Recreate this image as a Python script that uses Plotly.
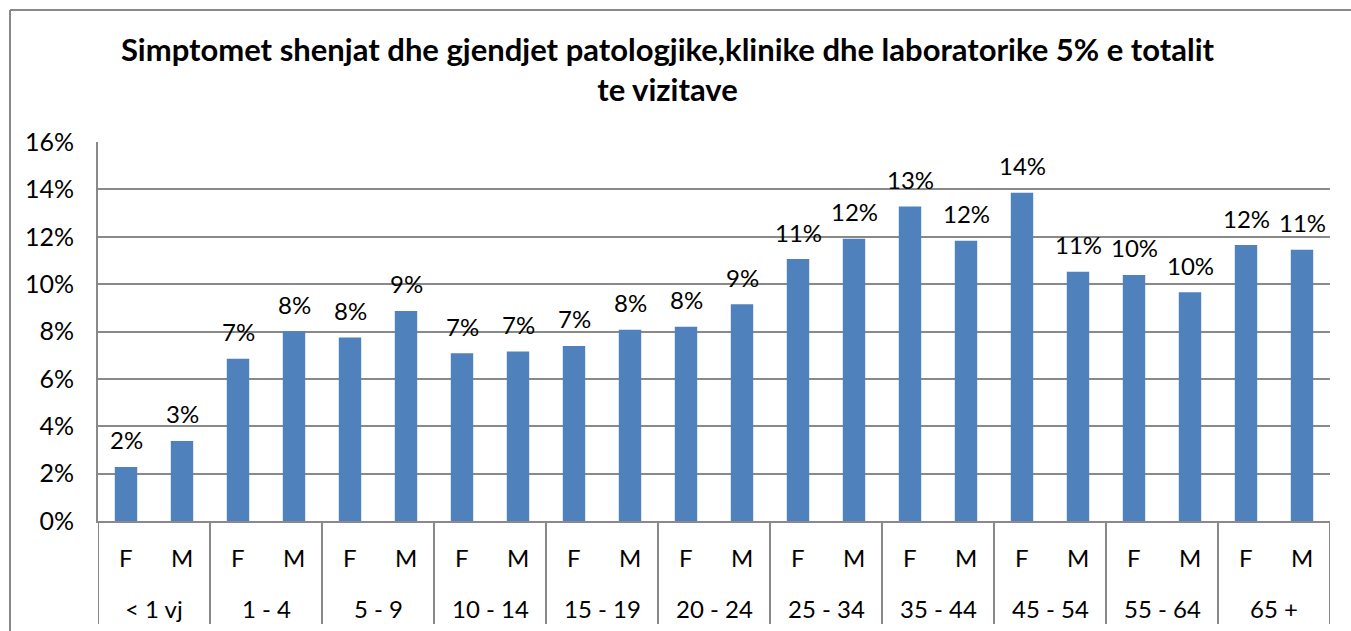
import plotly.graph_objects as go

groups = ["< 1 vj", "1 - 4", "5 - 9", "10 - 14", "15 - 19", "20 - 24",
          "25 - 34", "35 - 44", "45 - 54", "55 - 64", "65 +"]
sexes = ["F", "M"]
values = [2.28, 3.38, 6.85, 8.01, 7.75, 8.87, 7.08, 7.16, 7.39, 8.07, 8.20, 9.15,
          11.06, 11.92, 13.28, 11.83, 13.86, 10.52, 10.39, 9.66, 11.65, 11.45]
title_text = "Simptomet shenjat dhe gjendjet patologjike,klinike dhe laboratorike 5% e totalit<br>te vizitave"

n_sex = len(sexes)
x_sexes = [s for _ in groups for s in sexes]
xs = list(range(len(values)))
vals = [v / 100 for v in values]

W, H = 1351, 631
L, T = 98, 142
R, B = W - 1330, H - 521
PW, PH = W - L - R, H - T - B
FONT = "Lato"
GRID = "#898989"

fig = go.Figure()
fig.add_trace(go.Bar(
    x=xs, y=vals, width=0.4,
    marker=dict(color="#4F81BD", line=dict(width=0)),
    hoverinfo="skip",
))

annotations = []
for x, v in zip(xs, vals):
    annotations.append(dict(x=x, y=v, text=f"{round(v*100)}%", showarrow=False,
                            yanchor="middle", yshift=27,
                            font=dict(family=FONT, size=24, color="#000000")))
for x, s in zip(xs, x_sexes):
    annotations.append(dict(x=x, y=0, yref="paper", text=s, showarrow=False,
                            yanchor="middle", yshift=-36,
                            font=dict(family=FONT, size=24, color="#000000")))
for k, g in enumerate(groups):
    annotations.append(dict(x=k * n_sex + (n_sex - 1) / 2, y=0, yref="paper", text=g,
                            showarrow=False, yanchor="middle", yshift=-87,
                            font=dict(family=FONT, size=24, color="#000000")))

shapes = []
for k in range(len(groups) + 1):
    xd = k * n_sex - 0.5
    shapes.append(dict(type="line", xref="x", yref="paper", x0=xd, x1=xd,
                       y0=0, y1=-103 / PH, line=dict(color=GRID, width=2)))
# outer chart frame (top and left edges visible)
shapes.append(dict(type="line", xref="paper", yref="paper",
                   x0=(10 - L) / PW, x1=(W + 40 - L) / PW,
                   y0=(H - 10 - B) / PH, y1=(H - 10 - B) / PH,
                   line=dict(color=GRID, width=2), layer="below"))
shapes.append(dict(type="line", xref="paper", yref="paper",
                   x0=(10 - L) / PW, x1=(10 - L) / PW,
                   y0=-(B + 40) / PH, y1=(H - 10 - B) / PH,
                   line=dict(color=GRID, width=2), layer="below"))

fig.update_layout(
    width=W, height=H,
    margin=dict(l=L, r=R, t=T, b=B, pad=0),
    paper_bgcolor="white", plot_bgcolor="white",
    showlegend=False,
    title=dict(text=title_text, x=667.5 / W, xanchor="center",
               y=1 - 60.5 / H, yanchor="middle", yref="container",
               font=dict(family=FONT, size=31, color="#000000", weight="bold")),
    xaxis=dict(range=[-0.5, len(values) - 0.5], showline=True, linecolor=GRID, linewidth=2,
               showticklabels=False, ticks="", showgrid=False, zeroline=False),
    yaxis=dict(range=[0, 0.16], dtick=0.02, tickformat=".0%",
               showline=True, linecolor=GRID, linewidth=2,
               gridcolor=GRID, gridwidth=2, zeroline=False,
               tickfont=dict(family=FONT, size=25, color="#000000"),
               ticks="", ticklen=0, ticklabelstandoff=17),
    annotations=annotations,
    shapes=shapes,
)

fig.write_html("out.html", config={"displayModeBar": False},
               post_script=("document.documentElement.style.overflow='hidden';"
                            "document.body.style.margin='0';"
                            "document.body.style.overflow='hidden';"))
